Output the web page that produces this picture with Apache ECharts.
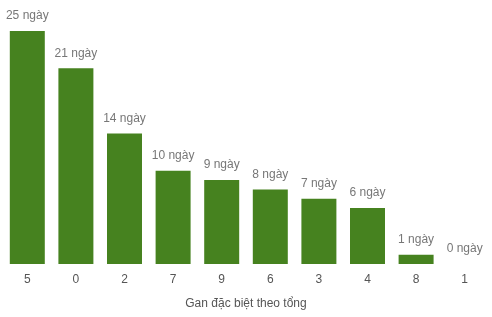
<!DOCTYPE html>
<html><head><meta charset="utf-8">
<script src="https://cdn.jsdelivr.net/npm/echarts@6/dist/echarts.min.js"></script>
<style>html,body{margin:0;padding:0;background:#fff}#c{width:492px;height:317px}</style>
</head><body><div id="c"></div>
<script>
const categories = ['5','0','2','7','9','6','3','4','8','1'];
const values = [25,21,14,10,9,8,7,6,1,0];
const xName = 'Gan đặc biệt theo tổng';
const chart = echarts.init(document.getElementById('c'));
chart.setOption({
  animation:false,
  grid:{left:3,right:3,top:31,bottom:53,containLabel:false},
  xAxis:{type:'category',data:categories,name:xName,nameLocation:'middle',nameGap:34,
    nameTextStyle:{color:'#555',fontSize:12,fontFamily:'Liberation Sans, Arial, sans-serif'},
    axisLine:{show:false},axisTick:{show:false},
    axisLabel:{color:'#555',fontSize:12,margin:10,fontFamily:'Liberation Sans, Arial, sans-serif'}},
  yAxis:{type:'value',min:0,max:25,show:false,splitLine:{show:false}},
  series:[{type:'bar',data:values,barCategoryGap:'28%',
    itemStyle:{color:'#46821f'},
    label:{show:true,position:'top',distance:9,color:'#777',fontSize:12,
      fontFamily:'Liberation Sans, Arial, sans-serif',formatter:p=>p.value+' ngày'}}]
});
</script></body></html>
